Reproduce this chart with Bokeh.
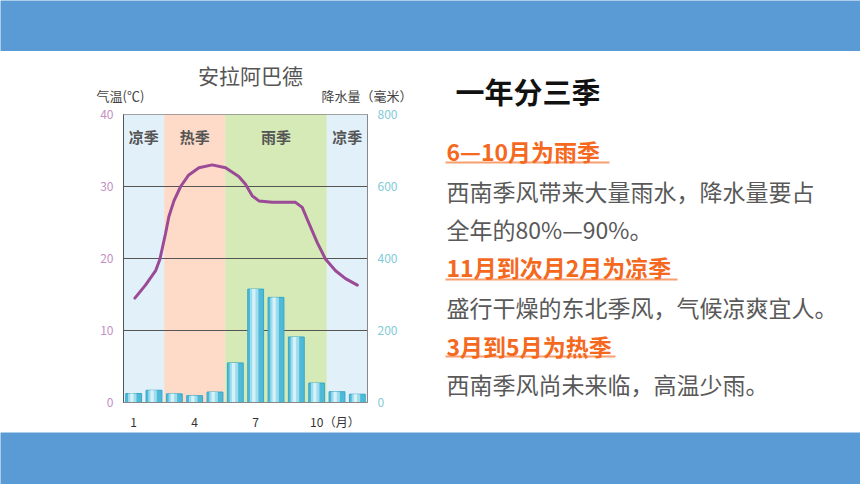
from bokeh.plotting import figure
from bokeh.layouts import column, row
from bokeh.models import Range1d, LinearAxis, FixedTicker
from bokeh.core.properties import value
from bokeh.embed import file_html
from bokeh.resources import INLINE

# ---------------- data ----------------
months = list(range(1, 13))
precip_mm = [25, 34, 24, 19, 29, 110, 315, 292, 182, 54, 30, 23]
# temperature curve (month position, deg C)
temp_month = [1.06, 1.58, 2.08, 2.29, 2.43, 2.57, 2.73, 2.98, 3.31, 3.71,
              4.21, 4.86, 5.52, 6.17, 6.50, 6.83, 7.16, 7.82, 8.96, 9.29,
              9.62, 10.03, 10.44, 10.93, 11.42, 12.0]
temp_c = [14.5, 16.3, 18.3, 19.9, 21.7, 23.5, 25.8, 28.0, 30.0, 31.6,
          32.6, 33.0, 32.6, 31.4, 30.3, 28.7, 28.0, 27.8, 27.8, 27.1,
          24.9, 22.2, 19.9, 18.3, 17.2, 16.3]
season_names = ["凉季", "热季", "雨季", "凉季"]
season_start = [0.5, 2.5, 5.5, 10.5]
season_end = [2.5, 5.5, 10.5, 12.5]
month_ticks = [1, 4, 7, 10]
month_unit = "（月）"
month_unit_pos = 11.23
temp_ticks = [0, 10, 20, 30, 40]
precip_ticks = [0, 200, 400, 600, 800]
chart_title = "安拉阿巴德"
temp_label = "气温(℃)"
precip_label = "降水量（毫米）"

slide_title = "一年分三季"
heading_lines = ["6—10月为雨季", "11月到次月2月为凉季", "3月到5月为热季"]
body_lines = ["西南季风带来大量雨水，降水量要占", "全年的80%—90%。",
              "盛行干燥的东北季风，气候凉爽宜人。", "西南季风尚未来临，高温少雨。"]

# ---------------- styles ----------------
FONT = "Noto Sans CJK SC"
BLUE = "#5b9bd5"
season_colors = ["#e2f0fa", "#fddbc8", "#d5eab6", "#e2f0fa"]
ORANGE = "#f5691f"
TEXT_GRAY = "#595959"


def no_align(fig):
    if "frame_align" in fig.properties():
        fig.frame_align = False
    return fig


def blank(w, h, xr, yr, color="white"):
    f = figure(width=w, height=h, output_backend="svg", toolbar_location=None,
               x_range=xr, y_range=yr, background_fill_color=color,
               border_fill_color=color, outline_line_color=None, min_border=0)
    f.axis.visible = False
    f.grid.visible = False
    return no_align(f)


# ---------------- top / bottom bands ----------------
top_band = blank(860, 51, Range1d(0, 1), Range1d(0, 1), BLUE)
bottom_band = blank(860, 52, Range1d(0, 1), Range1d(0, 1), BLUE)

# ---------------- chart header (title + unit labels) ----------------
hdr = blank(438, 54, Range1d(0, 438), Range1d(54, 0))
hdr.text(x=[250], y=[23], text=[chart_title], text_font=value(FONT),
         text_font_size="21px", text_color="#555555", text_align="center",
         text_baseline="middle")
hdr.text(x=[120, 366.5], y=[44, 44], text=[temp_label, precip_label],
         text_font=value(FONT), text_font_size="13px", text_color="#444444",
         text_align="center", text_baseline="middle")

# ---------------- climate chart ----------------
p = figure(width=438, height=327, output_backend="svg", toolbar_location=None,
           x_range=Range1d(0.5, 12.5), y_range=Range1d(0, 40),
           min_border_left=123, min_border_right=71, min_border_top=9,
           min_border_bottom=21, background_fill_color="white",
           border_fill_color="white", outline_line_color="#888888")
no_align(p)
p.extra_y_ranges = {"precip": Range1d(0, 800)}

bands_r = p.quad(left=season_start, right=season_end, bottom=0, top=40,
                 fill_color=season_colors, line_color=None)
bands_r.level = "image"

season_mid = [(s + e) / 2 for s, e in zip(season_start, season_end)]
p.text(x=season_mid, y=[36.9] * len(season_mid), text=season_names,
       text_font=value(FONT), text_font_size="15px", text_font_style="bold",
       text_color="#555555", text_align="center", text_baseline="middle")

# bars with a simple highlight to mimic the cylinder shading
p.vbar(x=months, top=precip_mm, bottom=0, width=0.78, y_range_name="precip",
       fill_color="#4dbad8", line_color="#3aa6c6", line_width=1)
p.vbar(x=[m - 0.07 for m in months], top=precip_mm, bottom=0, width=0.42,
       y_range_name="precip", fill_color="#9fdcec", line_color=None)
p.vbar(x=[m - 0.09 for m in months], top=precip_mm, bottom=0, width=0.16,
       y_range_name="precip", fill_color="#d6f2f8", line_color=None)

p.line(temp_month, temp_c, line_color="#9b4a96", line_width=3,
       line_join="round", line_cap="round")

p.xgrid.visible = False
p.ygrid.ticker = FixedTicker(ticks=[10, 20, 30])
p.ygrid.grid_line_color = "#555555"
p.ygrid.grid_line_width = 1.2

p.xaxis.ticker = FixedTicker(ticks=month_ticks + [month_unit_pos])
p.xaxis.major_label_overrides = {month_unit_pos: month_unit}
p.xaxis.major_tick_line_color = None
p.xaxis.minor_tick_line_color = None
p.xaxis.axis_line_color = "#888888"
p.xaxis.major_label_text_font = FONT
p.xaxis.major_label_text_font_size = "12px"
p.xaxis.major_label_text_color = "#333333"
p.xaxis.major_label_standoff = 4

p.yaxis.ticker = FixedTicker(ticks=temp_ticks)
p.yaxis.major_tick_line_color = None
p.yaxis.minor_tick_line_color = None
p.yaxis.axis_line_color = "#555555"
p.yaxis.major_label_text_font = FONT
p.yaxis.major_label_text_font_size = "12px"
p.yaxis.major_label_text_color = "#c48fc3"
p.yaxis.major_label_standoff = 4

ry = LinearAxis(y_range_name="precip", ticker=FixedTicker(ticks=precip_ticks))
ry.major_tick_line_color = None
ry.minor_tick_line_color = None
ry.axis_line_color = "#888888"
ry.major_label_text_font = FONT
ry.major_label_text_font_size = "12px"
ry.major_label_text_color = "#7fcbd8"
ry.major_label_standoff = 4
p.add_layout(ry, "right")

# ---------------- text panel ----------------
t = blank(422, 381, Range1d(0, 422), Range1d(381, 0))

t.text(x=[17], y=[39], text=[slide_title], text_font=value(FONT),
       text_font_size="29px", text_font_style="bold", text_color="#111111",
       text_baseline="middle")

head_y = [99, 215, 294]
under_y = [111, 228, 305]
under_end = [171, 239, 177]
body_y = [139, 177, 255, 332]

t.segment(x0=[7] * 3, y0=under_y, x1=under_end, y1=under_y,
          line_color="#f7a070", line_width=2)
t.text(x=[8] * 3, y=head_y, text=heading_lines, text_font=value(FONT),
       text_font_size="23px", text_font_style="bold", text_color=ORANGE,
       text_baseline="middle")
t.text(x=[8] * 4, y=body_y, text=body_lines, text_font=value(FONT),
       text_font_size="23px", text_color=TEXT_GRAY, text_baseline="middle")

layout = column(top_band, row(column(hdr, p), t), bottom_band)
open("out.html", "w").write(file_html(layout, INLINE))
